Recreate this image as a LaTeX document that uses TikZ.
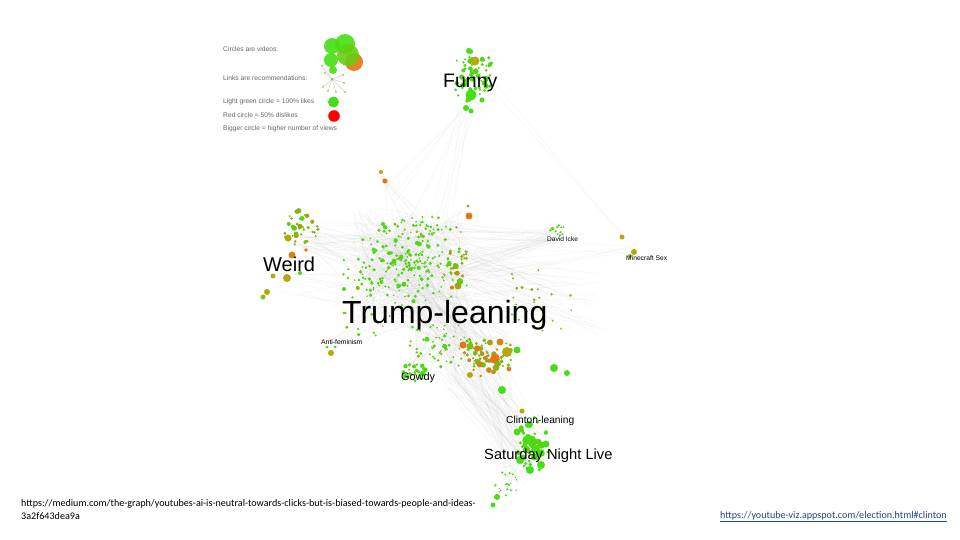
\documentclass[tikz,border=0pt]{standalone}
\usepackage{fontspec}
\setmainfont{Liberation Sans}
\newfontfamily\urlfont{Carlito}
\definecolor{gcol}{RGB}{70,222,20}
\definecolor{ocol}{RGB}{228,118,18}
\definecolor{olv}{RGB}{176,170,10}
\definecolor{lnk}{RGB}{30,70,140}
\newcommand\blob[8]{%
  \foreach \k in {1,...,#5}{%
    \pgfmathsetmacro\ba{360*rnd}%
    \pgfmathsetmacro\bd{rnd^0.8}%
    \pgfmathsetmacro\bx{#1+#3*\bd*cos(\ba)}%
    \pgfmathsetmacro\by{#2+#4*\bd*sin(\ba)}%
    \pgfmathsetmacro\br{#7+(#8-#7)*rnd*rnd}%
    \pgfmathtruncatemacro\bm{#6+(100-#6)*rnd}%
    \fill[gcol!\bm!ocol] (\bx,\by) circle[radius=\br pt];
  }}
\newcommand\links[7]{%
  \foreach \k in {1,...,#7}{%
    \pgfmathsetmacro\xa{#1+#3*rand}%
    \pgfmathsetmacro\ya{#2+#3*rand}%
    \pgfmathsetmacro\xb{#4+#6*rand}%
    \pgfmathsetmacro\yb{#5+#6*rand}%
    \draw[edge] (\xa,\ya) -- (\xb,\yb);
  }}
\begin{document}
\begin{tikzpicture}[x=1pt,y=-1pt,
  edge/.style={draw=gray!50,line width=0.12pt,opacity=0.28},
  lbl/.style={inner sep=0pt,anchor=base west,font=\fontsize{#1}{#1}\selectfont},
  leg/.style={inner sep=0pt,anchor=base west,text=gray!80!black,font=\fontsize{6.7}{7}\selectfont},
  urlst/.style={inner sep=0pt,anchor=base west,font=\urlfont\fontsize{10.1}{11}\selectfont}]
\pgfmathsetseed{4242}
\fill[white] (0,0) rectangle (960,540);
\useasboundingbox (0,0) rectangle (960,540);
% ---------- edges ----------
\links{408}{265}{58}{408}{265}{58}{340}
\links{420}{285}{40}{482}{360}{30}{120}
\links{470}{365}{30}{525}{450}{22}{80}
\links{515}{470}{14}{515}{470}{14}{45}
\links{420}{265}{40}{565}{300}{40}{60}
\links{430}{255}{40}{556}{235}{8}{40}
\links{460}{265}{30}{630}{250}{5}{6}
\links{470}{98}{10}{420}{230}{40}{12}
\links{480}{80}{12}{625}{240}{4}{2}
\links{300}{235}{15}{392}{262}{40}{45}
\links{290}{285}{12}{380}{300}{30}{12}
\links{327}{348}{8}{392}{322}{30}{12}
\links{415}{372}{10}{440}{320}{30}{30}
\links{383}{176}{4}{420}{240}{35}{8}
% ---------- legend ----------
\node[leg] (l1) at (223,51.5) {Circles are videos:};
\node[leg] (l2) at (223,80.5) {Links are recommendations:};
\node[leg] (l3) at (223,104) {Light green circle = 100\% likes};
\node[leg] (l4) at (223,117.5) {Red circle = 50\% dislikes};
\node[leg] (l5) at (223,130.5) {Bigger circle = higher number of views};
\begin{scope}[opacity=0.9]
\fill[gcol] (332,46) circle[radius=8pt];
\fill[gcol] (345,44) circle[radius=10pt];
\fill[ocol] (354,62) circle[radius=9pt];
\fill[gcol!70!olv] (348,55) circle[radius=11pt];
\fill[gcol] (331,60) circle[radius=7pt];
\fill[gcol] (333,70) circle[radius=4pt];
\end{scope}
\coordinate (hub) at (332,79);
\foreach \p in {(322,66),(343,75),(344,83),(336,92),(328,91),(323,87),(345,92),(325,73)}{
  \draw[gray!60,line width=0.25pt] (hub) -- \p;
  \fill[gcol!60!olv] \p circle[radius=0.9pt];}
\fill[gcol!70!olv] (hub) circle[radius=1.2pt];
\fill[gcol] (333.5,102) circle[radius=5.5pt];
\fill[red] (334,116) circle[radius=5.8pt];
% ---------- clusters ----------
% Funny
\blob{473}{76}{21}{28}{70}{88}{1.1}{3.6}
\fill[olv] (475,61) circle[radius=4.5pt];
\fill[gcol] (471,95) circle[radius=5.5pt];
\fill[gcol] (466,108) circle[radius=3pt];
\fill[gcol] (471,111) circle[radius=2.5pt];
\fill[gcol] (482,100) circle[radius=2.5pt];
% Weird
\blob{300}{228}{18}{18}{38}{30}{1.1}{3}
\fill[olv] (288,238) circle[radius=3.5pt];
\fill[ocol!70!olv] (292,255) circle[radius=3.5pt];
\fill[olv] (287,278) circle[radius=4pt];
\fill[olv] (273,276) circle[radius=2.5pt];
\fill[olv] (267,292) circle[radius=3pt];
\fill[gcol!50!olv] (263,297) circle[radius=2.5pt];
\fill[gcol] (300,273) circle[radius=2pt];
\fill[ocol] (306,250) circle[radius=1.8pt];
% misc
\fill[olv] (381,172) circle[radius=2pt];
\fill[ocol] (385,181) circle[radius=2.6pt];
\fill[ocol] (469,216) circle[radius=3.5pt];
\fill[ocol] (468,206) circle[radius=1.5pt];
\fill[gcol] (383,224) circle[radius=2pt];
\fill[gcol] (344,289) circle[radius=2pt];
% main Trump-leaning
\blob{405}{262}{52}{42}{190}{82}{0.9}{2.7}
\blob{370}{292}{38}{45}{40}{75}{0.9}{2.2}
\blob{430}{225}{45}{10}{22}{55}{0.9}{2.2}
\blob{456}{270}{14}{30}{32}{15}{1.1}{3.7}
\blob{440}{345}{35}{30}{55}{65}{0.9}{2.7}
\blob{485}{358}{32}{22}{65}{0}{1.1}{4}
\blob{530}{300}{48}{42}{25}{40}{0.8}{1.9}
% Gowdy
\blob{415}{372}{14}{10}{28}{85}{1.1}{3.2}
% lower orange big ones
\fill[olv] (507,352) circle[radius=5pt];
\fill[ocol] (495,358) circle[radius=4.5pt];
\fill[ocol] (463,345) circle[radius=3.5pt];
\fill[ocol!80!olv] (500,342) circle[radius=3.5pt];
\fill[olv] (470,375) circle[radius=3pt];
\fill[gcol] (554,368) circle[radius=4pt];
\fill[gcol] (567,373) circle[radius=3pt];
\fill[gcol] (502,390) circle[radius=4pt];
\fill[gcol] (517,350) circle[radius=3.5pt];
% Saturday Night Live
\blob{532}{445}{18}{28}{55}{88}{1.5}{4.5}
\fill[olv] (522,411) circle[radius=2.5pt];
\foreach \p/\r in {(527,440)/4.5,(536,449)/4.5,(520,460)/4,(541,465)/4,(546,444)/3.5,(530,470)/4,(517,432)/3.5,(528,425)/3}{
  \fill[gcol] \p circle[radius=\r pt];}
\blob{507}{484}{12}{14}{22}{80}{0.7}{1.6}
\fill[gcol] (497,497) circle[radius=3pt];
\fill[gcol] (493,505) circle[radius=2.5pt];
% David Icke / Minecraft / Anti-feminism
\blob{556}{231}{12}{6}{12}{85}{0.9}{2.2}
\fill[olv] (622,237) circle[radius=2.5pt];
\fill[olv] (634,252) circle[radius=3pt];
\fill[gcol!50!olv] (630,256) circle[radius=2pt];
\fill[olv] (331,353) circle[radius=3pt];
\fill[gcol] (327,347) circle[radius=1.5pt];
\fill[gcol] (335,347) circle[radius=1.5pt];
% ---------- labels ----------
\node[lbl=19.5] (funny) at (443,88) {Funny};
\node[lbl=20] (weird) at (263,271) {Weird};
\node[lbl=32] (trump) at (342,323) {Trump-leaning};
\node[lbl=6.6] (icke) at (547,241) {David Icke};
\node[lbl=6.7] (mine) at (626,260) {Minecraft Sex};
\node[lbl=6.8] (anti) at (321,344) {Anti-feminism};
\node[lbl=10.9] (gowdy) at (401,380) {Gowdy};
\node[lbl=10.2] (clinton) at (506,423.5) {Clinton-leaning};
\node[lbl=14.7] (snl) at (484,459) {Saturday Night Live};
% ---------- URLs ----------
\node[urlst] (u1) at (21,506.5)
  {https://medium.com/the-graph/youtubes-ai-is-neutral-towards-clicks-but-is-biased-towards-people-and-ideas-};
\node[urlst] (u2) at (21,519) {3a2f643dea9a};
\node[urlst,text=lnk] (u3) at (720,518.5)
  {\underline{https://youtube-viz.appspot.com/election.html\#clinton}};
\end{tikzpicture}
\end{document}
